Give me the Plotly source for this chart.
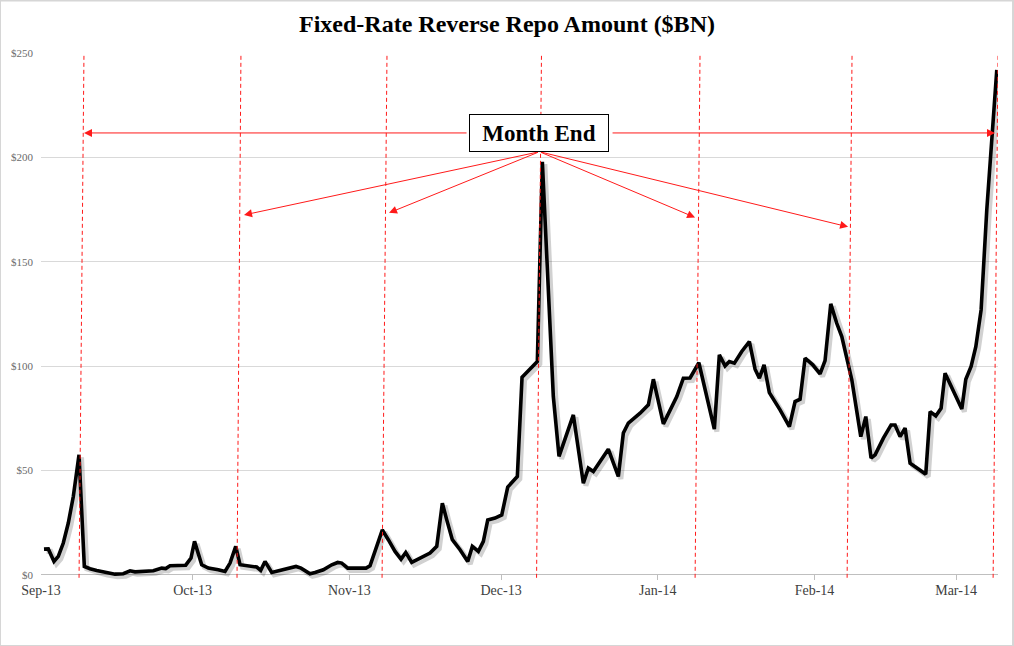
import pandas as pd
import plotly.graph_objects as go

# ---- data ----
start_date = "2013-09-01"
# position of each vertex, in days after 1 Sep 2013
day_offset = [0.59, 1.44, 2.57, 3.42, 4.41, 5.40, 6.39, 7.52, 8.57, 9.69,
              11.02, 12.66, 14.64, 16.28, 17.61, 18.60, 20.57, 22.22, 23.88, 24.67,
              25.52, 27.16, 28.62, 29.67, 30.37, 31.79, 33.10, 35.07, 36.40, 37.39,
              38.52, 39.37, 41.01, 42.67, 43.46, 44.31, 45.64, 47.62, 50.44, 51.43,
              53.21, 54.20, 55.85, 57.51, 58.69, 59.49, 60.67, 62.77, 64.29, 65.08,
              67.52, 68.70, 70.03, 71.22, 72.15, 73.33, 75.31, 76.95, 78.28, 79.39,
              80.26, 81.36, 82.89, 84.41, 85.32, 86.51, 87.50, 88.37, 89.81, 91.14,
              92.32, 93.24, 94.22, 95.15, 96.74, 98.18, 99.17, 101.34, 102.47, 105.30,
              107.28, 108.27, 109.26, 112.22, 114.20, 115.19, 116.18, 118.50, 120.14, 121.13,
              123.11, 125.76, 127.06, 128.39, 130.13, 131.69, 133.19, 134.18, 135.31, 136.16,
              137.15, 138.61, 140.12, 141.25, 142.10, 143.03, 144.07, 146.19, 148.03, 149.16,
              150.15, 151.14, 152.66, 154.10, 155.09, 156.22, 157.40, 158.40, 159.70, 160.38,
              162.16, 163.15, 164.19, 164.99, 166.63, 168.15, 168.94, 169.93, 170.92, 171.91,
              175.01, 175.87, 176.99, 178.04, 178.83, 182.14, 182.93, 183.98, 184.91, 185.96,
              187.08, 188.07, 189.06]
repo_bn = [12.3, 12.4, 6.4, 8.8, 15.2, 24.8, 37.5, 57.5, 4.0, 2.9,
           2.1, 1.1, 0.3, 0.5, 1.9, 1.4, 1.6, 1.9, 3.2, 3.0,
           4.3, 4.5, 4.6, 8.0, 16.0, 4.8, 3.2, 2.4, 1.6, 5.6,
           13.6, 4.8, 4.3, 3.7, 2.1, 6.4, 1.1, 2.4, 4.0, 3.2,
           0.5, 1.1, 2.4, 4.8, 5.9, 5.6, 3.2, 3.2, 3.2, 4.3,
           21.5, 16.8, 11.2, 7.5, 10.7, 5.9, 8.5, 10.4, 13.6, 34.3,
           26.3, 16.8, 12.0, 6.4, 13.6, 11.2, 16.0, 26.3, 27.2, 28.7,
           42.0, 44.7, 47.1, 94.6, 98.6, 102.2, 197.9, 85.4, 56.7, 76.6,
           43.9, 51.1, 49.5, 60.2, 47.1, 67.9, 72.7, 77.4, 81.4, 93.7,
           72.3, 85.4, 94.2, 94.3, 101.6, 85.4, 69.8, 105.4, 100.1, 102.2,
           101.4, 107.0, 111.7, 98.5, 94.2, 100.6, 87.3, 79.0, 71.0, 83.0,
           84.1, 103.8, 100.6, 96.3, 102.6, 129.8, 120.5, 114.1, 100.6, 93.4,
           66.2, 75.8, 55.9, 57.5, 65.5, 71.8, 71.8, 66.2, 70.3, 53.5,
           48.2, 78.2, 76.1, 79.8, 96.6, 79.4, 93.7, 99.8, 109.3, 126.9,
           174.8, 211.5, 241.9]
assert len(day_offset) == len(repo_bn)

y_ticks = [0, 50, 100, 150, 200, 250]
y_tick_labels = ["$0", "$50", "$100", "$150", "$200", "$250"]

# month-end markers (day offsets of the hand-drawn dashed lines, top and bottom)
month_end_top = [8.51, 39.56, 68.45, 99.01, 130.37, 160.44, 189.32]
month_end_bottom = [7.52, 38.77, 67.46, 98.02, 129.38, 159.45, 188.33]

# "Month End" call-out
label_text = "Month End"
label_day, label_val = 98.6, 211.7
label_left_day, label_right_day = 84.47, 112.76
fan_origin_day, fan_origin_val = 98.6, 202.7
fan_tip_day = [40.16, 68.84, 129.38, 159.65]
fan_tip_val = [172.4, 173.4, 171.2, 166.7]
side_tip_day = [8.51, 188.7]

axis_end_day = 189.3

# ---- helpers ----
t0 = pd.Timestamp(start_date)


def to_date(d):
    return t0 + pd.to_timedelta(d, unit="D")


dates = [to_date(d) for d in day_offset]
shadow_dates = [to_date(d + 0.5) for d in day_offset]
shadow_vals = [v - 1.2 for v in repo_bn]

SERIF = "Liberation Serif, Times New Roman, serif"
RED = "#ff1a1a"

fig = go.Figure()
fig.add_trace(go.Scatter(x=shadow_dates, y=shadow_vals, mode="lines",
                         line=dict(color="rgba(0,0,0,0.18)", width=5),
                         hoverinfo="skip", showlegend=False))
fig.add_trace(go.Scatter(x=dates, y=repo_bn, mode="lines",
                         line=dict(color="black", width=3.6),
                         name="Fixed-Rate RRP", showlegend=False))

# dashed month-end lines
for top, bot in zip(month_end_top, month_end_bottom):
    fig.add_shape(type="line", xref="x", yref="y",
                  x0=to_date(top), y0=252, x1=to_date(bot), y1=-2.5,
                  line=dict(color=RED, width=1, dash="4px,3px"), layer="above")

# fan arrows from the call-out box
for td, tv in zip(fan_tip_day, fan_tip_val):
    fig.add_annotation(x=to_date(td), y=tv, ax=to_date(fan_origin_day), ay=fan_origin_val,
                       xref="x", yref="y", axref="x", ayref="y", text="",
                       showarrow=True, arrowhead=2, arrowsize=1.6, arrowwidth=1,
                       arrowcolor=RED)
# horizontal arrows
for tail, tip in zip([label_left_day, label_right_day], side_tip_day):
    fig.add_annotation(x=to_date(tip), y=label_val, ax=to_date(tail), ay=label_val,
                       xref="x", yref="y", axref="x", ayref="y", text="",
                       showarrow=True, arrowhead=2, arrowsize=1.6, arrowwidth=1,
                       arrowcolor=RED)

fig.add_annotation(x=to_date(label_day), y=label_val, xref="x", yref="y",
                   text=label_text, showarrow=False,
                   font=dict(family=SERIF, size=23, color="black", weight="bold"),
                   bgcolor="white", bordercolor="black", borderwidth=1,
                   borderpad=4, width=130, height=28)

# light frame around the picture
fig.add_shape(type="rect", xref="paper", yref="paper",
              x0=-41 / 957, x1=(1014 - 41) / 957 - 0.001,
              y0=-66 / 527, y1=1 + 53 / 527 - 0.001,
              line=dict(color="#d6d6d6", width=2), layer="below")

fig.update_layout(
    width=1014, height=646,
    margin=dict(l=41, r=16, t=53, b=66),
    paper_bgcolor="white", plot_bgcolor="white",
    title=dict(text="<b>Fixed-Rate Reverse Repo Amount ($BN)</b>",
               x=0.5, xref="container", xanchor="center", y=1 - 24 / 646, yanchor="middle",
               font=dict(family=SERIF, size=24, color="black")),
    showlegend=False,
)
fig.update_xaxes(type="date", range=[t0, to_date(axis_end_day)],
                 tick0=start_date, dtick="M1", tickformat="%b-%y",
                 ticks="inside", ticklen=5, tickcolor="#bfbfbf", tickwidth=1,
                 showgrid=False, showline=False, zeroline=False,
                 tickfont=dict(family=SERIF, size=14, color="#404040"))
fig.update_yaxes(range=[-2.5, 250], tickmode="array", tickvals=y_ticks, ticktext=y_tick_labels,
                 showgrid=True, gridcolor="#d9d9d9", gridwidth=1,
                 zeroline=True, zerolinecolor="#bfbfbf", zerolinewidth=1,
                 showline=False, ticks="", ticklabelstandoff=7,
                 tickfont=dict(family=SERIF, size=11, color="#6b6b6b"))

fig.write_html("out.html", config={"displayModeBar": False},
               post_script="document.body.style.margin='0px';document.body.style.overflow='hidden';")
